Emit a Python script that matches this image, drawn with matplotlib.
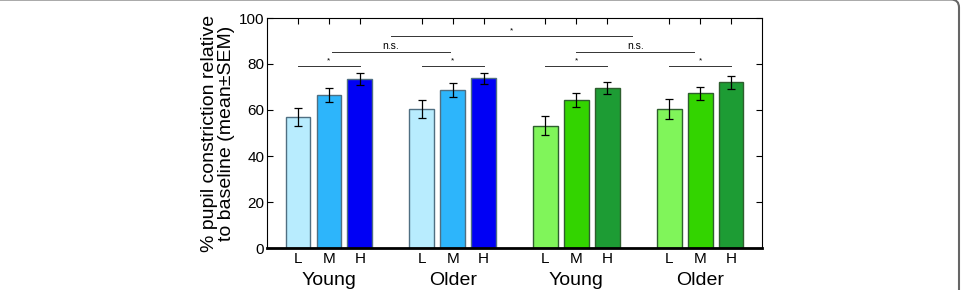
import numpy as np
import matplotlib.pyplot as plt
from matplotlib.patches import FancyBboxPatch

plt.rcParams['font.family'] = ['Liberation Sans', 'DejaVu Sans']

# data
conditions = ['L', 'M', 'H']
groups = ['Young', 'Older', 'Young', 'Older']
means = [[57.0, 66.5, 73.5],
         [60.5, 68.7, 73.7],
         [53.2, 64.3, 69.6],
         [60.4, 67.2, 72.0]]
sems = [[3.8, 3.0, 2.7],
        [4.0, 3.1, 2.5],
        [4.2, 2.9, 2.7],
        [4.5, 3.0, 2.7]]
colors = [['#b8ecfe', '#2db5fb', '#0000f5'],
          ['#b8ecfe', '#2db5fb', '#0000f5'],
          ['#80f55a', '#33d400', '#1d9c34'],
          ['#80f55a', '#33d400', '#1d9c34']]
edges = ['#4f6f82', '#4f6f82', '#2e5e2e', '#2e5e2e']
# significance brackets: (x start, x end, y, label)
brackets = [(1, 3, 79.3, '*'),
            (5, 7, 79.3, '*'),
            (9, 11, 79.3, '*'),
            (13, 15, 79.3, '*'),
            (2.1, 5.9, 85.4, 'n.s.'),
            (10.0, 13.8, 85.4, 'n.s.'),
            (4.0, 11.8, 92.2, '*')]

fig = plt.figure(figsize=(9.65, 2.9), dpi=100)
ax = fig.add_axes([267/965, 42/290, 495/965, 230/290])

xpos = []
xlab = []
for g in range(4):
    x = np.arange(3) + 1 + 4*g
    ax.bar(x, means[g], width=0.8, color=colors[g], edgecolor=edges[g], linewidth=1.0, zorder=2)
    ax.errorbar(x, means[g], yerr=sems[g], fmt='none', ecolor='black', elinewidth=0.9,
                capsize=3, capthick=0.9, zorder=3)
    xpos.extend(x)
    xlab.extend(conditions)
    ax.text(x[1], -16.0, groups[g], ha='center', va='baseline', fontsize=14)

for x0, x1, y, lab in brackets:
    ax.plot([x0, x1], [y, y], color='#333333', lw=0.7, zorder=3)
    if lab == '*':
        ax.text((x0 + x1)/2, y + 0.6, '*', ha='center', va='bottom', fontsize=6)
    else:
        ax.text((x0 + x1)/2, y + 0.4, lab, ha='center', va='bottom', fontsize=7.5)

ax.set_xlim(0, 16)
ax.set_ylim(0, 100)
ax.set_xticks(xpos)
ax.set_xticklabels(xlab, fontsize=11)
ax.set_yticks([0, 20, 40, 60, 80, 100])
ax.tick_params(axis='both', direction='in', top=True, right=True, length=4, width=0.8, labelsize=11, pad=2)
ax.tick_params(axis='x', pad=3)
for s in ax.spines.values():
    s.set_linewidth(0.8)
ax.spines['bottom'].set_linewidth(2.0)
ax.set_ylabel('% pupil constriction relative\nto baseline (mean±SEM)', fontsize=14, labelpad=3,
              linespacing=0.95)

# page frame on the right (inches)
frame = FancyBboxPatch((-1.0, -1.0), 1.0 + 9.59, 1.0 + 2.905,
                       boxstyle='round,pad=0,rounding_size=0.08', transform=fig.dpi_scale_trans,
                       facecolor='none', edgecolor='#666666', lw=1.5, clip_on=False)
fig.patches.append(frame)

fig.savefig('out.png', dpi=100)
